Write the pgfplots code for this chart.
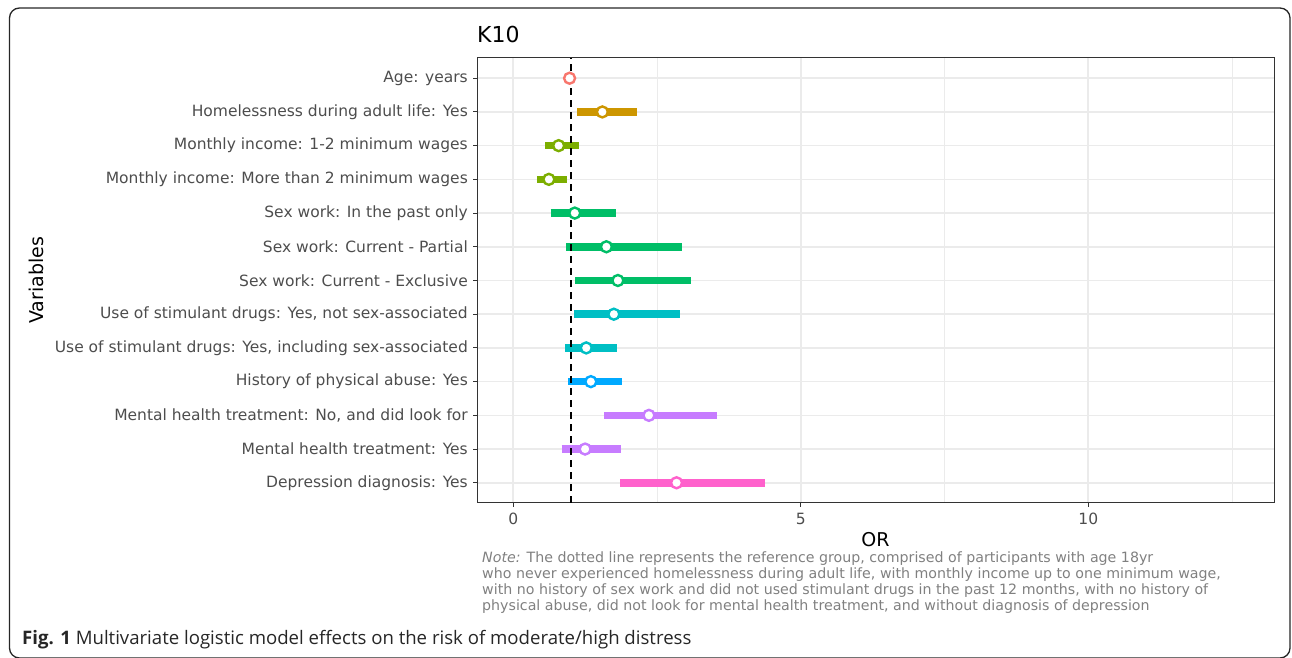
\documentclass[border=0pt]{standalone}
\usepackage{fontspec}
\setmainfont{DejaVu Sans}
\newfontfamily\capfont{Open Sans}
\usepackage{pgfplots}
\pgfplotsset{compat=1.18}
\definecolor{cAge}{HTML}{F8766D}
\definecolor{cHome}{HTML}{CD9600}
\definecolor{cInc}{HTML}{7CAE00}
\definecolor{cSex}{HTML}{00BE67}
\definecolor{cStim}{HTML}{00BFC4}
\definecolor{cAbu}{HTML}{00A9FF}
\definecolor{cMH}{HTML}{C77CFF}
\definecolor{cDep}{HTML}{FF61CC}
\definecolor{gray92}{HTML}{EBEBEB}
\definecolor{gray20}{HTML}{333333}
\definecolor{gray30}{HTML}{4D4D4D}
\definecolor{notegray}{HTML}{808080}
\newcommand{\ci}[4]{% color, y, lo, hi
  \addplot[#1, line width=7.5pt, forget plot] coordinates {(#3,#2) (#4,#2)};}
\newcommand{\pt}[3]{% color, y, or
  \addplot[only marks, mark=*, mark size=5.5pt, mark options={draw=#1, fill=white, line width=2.4pt}, forget plot] coordinates {(#3,#2)};}
\begin{document}
\begin{tikzpicture}[x=1pt,y=1pt]
\path[use as bounding box] (0,0) rectangle (1292,658);
\draw[line width=1.3pt, rounded corners=10pt, color=black!85] (9.5,0) rectangle (1290,650);
\begin{axis}[at={(477pt,155pt)}, anchor=south west, width=797pt, height=445pt, scale only axis,
  xmin=-0.63, xmax=13.23, ymin=0.4, ymax=13.6,
  xtick={0,5,10}, minor xtick={2.5,7.5,12.5}, ytick={1,...,13},
  yticklabels={Depression diagnosis: Yes, Mental health treatment: Yes, {Mental health treatment: No, and did look for}, History of physical abuse: Yes, {Use of stimulant drugs: Yes, including sex-associated}, {Use of stimulant drugs: Yes, not sex-associated}, Sex work: Current - Exclusive, Sex work: Current - Partial, Sex work: In the past only, Monthly income: More than 2 minimum wages, Monthly income: 1-2 minimum wages, Homelessness during adult life: Yes, Age: years},
  grid=both, major grid style={color=gray92, line width=1.6pt}, minor grid style={color=gray92, line width=0.8pt},
  axis line style={color=gray20, line width=1pt},
  tick style={color=gray20, line width=1pt}, tick align=outside, major tick length=4pt, minor tick length=0pt,
  xtick pos=bottom, ytick pos=left,
  ticklabel style={font=\fontsize{15.5}{18}\selectfont, text=gray30, inner sep=0pt},
  yticklabel style={xshift=-5pt},
  xticklabel style={yshift=-6pt},
  /pgf/number format/assume math mode=true,
]
\ci{cHome}{12}{1.11}{2.15}
\ci{cInc}{11}{0.56}{1.15}
\ci{cInc}{10}{0.41}{0.94}
\ci{cSex}{9}{0.65}{1.78}
\ci{cSex}{8}{0.92}{2.93}
\ci{cSex}{7}{1.08}{3.10}
\ci{cStim}{6}{1.06}{2.90}
\ci{cStim}{5}{0.90}{1.81}
\ci{cAbu}{4}{0.95}{1.90}
\ci{cMH}{3}{1.58}{3.54}
\ci{cMH}{2}{0.84}{1.87}
\ci{cDep}{1}{1.86}{4.38}
\addplot[black, line width=1.8pt, dash pattern=on 7pt off 5pt, forget plot] coordinates {(1,0.4) (1,13.6)};
\pt{cAge}{13}{0.98}
\pt{cHome}{12}{1.55}
\pt{cInc}{11}{0.79}
\pt{cInc}{10}{0.62}
\pt{cSex}{9}{1.07}
\pt{cSex}{8}{1.62}
\pt{cSex}{7}{1.82}
\pt{cStim}{6}{1.75}
\pt{cStim}{5}{1.27}
\pt{cAbu}{4}{1.35}
\pt{cMH}{3}{2.36}
\pt{cMH}{2}{1.25}
\pt{cDep}{1}{2.84}
\end{axis}
\node[anchor=base west, inner sep=0pt, font=\fontsize{22}{26}\selectfont] at (477,615) {K10};
\node[anchor=base, inner sep=0pt, font=\fontsize{19}{22}\selectfont] at (875.5,111) {OR};
\node[anchor=base, inner sep=0pt, rotate=90, font=\fontsize{19}{22}\selectfont] at (43,377.5) {Variables};
\begin{scope}[every node/.style={anchor=base west, inner sep=0pt, text=notegray, font=\fontsize{14.2}{16}\selectfont}]
\node at (482,95) {\textit{Note:} The dotted line represents the reference group, comprised of participants with age 18yr};
\node at (482,79) {who never experienced homelessness during adult life, with monthly income up to one minimum wage,};
\node at (482,63) {with no history of sex work and did not used stimulant drugs in the past 12 months, with no history of};
\node at (482,47) {physical abuse, did not look for mental health treatment, and without diagnosis of depression};
\end{scope}
\node[anchor=base west, inner sep=0pt, font=\capfont\fontsize{18.6}{22}\selectfont, text=black!85] at (22,13) {\textbf{Fig. 1} Multivariate logistic model effects on the risk of moderate/high distress};
\end{tikzpicture}
\end{document}
